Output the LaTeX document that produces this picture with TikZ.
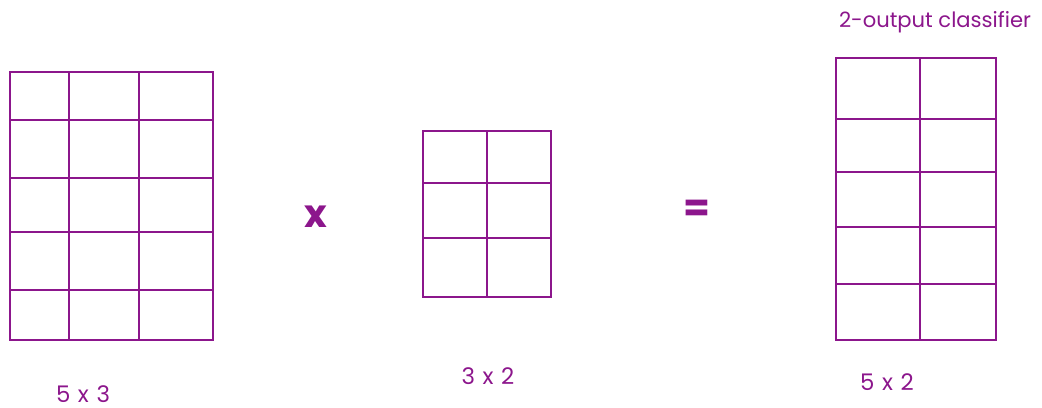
\documentclass[tikz,border=0pt]{standalone}
\usepackage{fontspec}
\setmainfont{Poppins}
\definecolor{grape}{RGB}{140,22,140}
\tikzset{
    gridline/.style={draw=grape, line width=1.1pt},
    dimlabel/.style={text=grape, font=\fontsize{13}{15}\selectfont},
    oplabel/.style={text=grape, font=\fontsize{22}{24}\selectfont\bfseries}
}
\begin{document}
\begin{tikzpicture}[x=0.02cm, y=-0.02cm]
    \useasboundingbox (0,0) rectangle (1042,408);

    % Left matrix (5 x 3)
    \draw[gridline] (10,72) rectangle (213,340);
    \foreach \xx in {69,139} \draw[gridline] (\xx,72) -- (\xx,340);
    \foreach \yy in {120,178,232,290} \draw[gridline] (10,\yy) -- (213,\yy);

    % Middle matrix (3 x 2)
    \draw[gridline] (423,131) rectangle (551,297);
    \draw[gridline] (487,131) -- (487,297);
    \foreach \yy in {183,238} \draw[gridline] (423,\yy) -- (551,\yy);

    % Right matrix (5 x 2)
    \draw[gridline] (836,58) rectangle (996,340);
    \draw[gridline] (920,58) -- (920,340);
    \foreach \yy in {119,172,227,284} \draw[gridline] (836,\yy) -- (996,\yy);

    % Operators
    \node[oplabel] (times) at (316,217) {x};
    \node[oplabel] (equals) at (697,211) {=};

    % Labels
    \node[dimlabel] (leftdim) at (83,394) {5\,\,x\,\,3};
    \node[dimlabel] (middim) at (488,376) {3\,\,x\,\,2};
    \node[dimlabel] (rightdim) at (887,382) {5\,\,x\,\,2};
    \node[text=grape, font=\fontsize{12}{14}\selectfont] (classifier) at (935,22) {2-output classifier};
\end{tikzpicture}
\end{document}
